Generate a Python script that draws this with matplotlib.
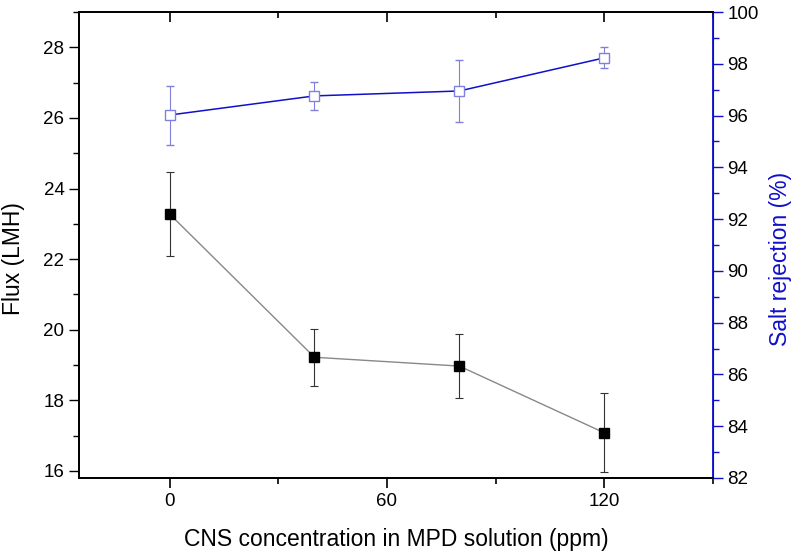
import matplotlib
matplotlib.use("Agg")
import matplotlib.pyplot as plt
from matplotlib.ticker import MultipleLocator

plt.rcParams['font.family'] = ['Liberation Sans', 'DejaVu Sans']

conc = [0, 40, 80, 120]
flux = [23.28, 19.22, 18.97, 17.08]
flux_err = [1.2, 0.81, 0.9, 1.12]
rejection = [96.02, 96.76, 96.95, 98.23]
rejection_err = [1.14, 0.55, 1.19, 0.4]

fig = plt.figure(figsize=(7.96, 5.54), dpi=100)
ax = fig.add_axes([0.0992, 0.1372, 0.7965, 0.8411])
ax2 = ax.twinx()

ax.errorbar(conc, flux, yerr=flux_err, color='#888888', lw=1.0,
            ecolor='#333333', elinewidth=0.8, capsize=3.2, capthick=0.8,
            marker='s', ms=7, mfc='black', mec='black', zorder=3)
ax2.errorbar(conc, rejection, yerr=rejection_err, color='#1010cc', lw=1.1,
             ecolor='#8080d8', elinewidth=0.8, capsize=3.2, capthick=0.8,
             marker='s', ms=6.5, mfc='white', mec='#8080e0', mew=1.0, zorder=3)

ax.set_xlim(-25, 150)
ax.set_ylim(15.8, 29.0)
ax2.set_ylim(82, 100)

ax.xaxis.set_major_locator(MultipleLocator(60))
ax.xaxis.set_minor_locator(MultipleLocator(30))
ax.yaxis.set_major_locator(MultipleLocator(2))
ax.yaxis.set_minor_locator(MultipleLocator(1))
ax2.yaxis.set_major_locator(MultipleLocator(2))
ax2.yaxis.set_minor_locator(MultipleLocator(1))

ax.tick_params(axis='x', which='both', bottom=True, top=False, direction='out',
               labelsize=13.5)
ax.tick_params(axis='x', which='major', length=7, width=1.2)
ax.tick_params(axis='x', which='minor', length=4, width=1.2)
ax.tick_params(axis='y', which='major', length=7, width=1.0, direction='out', labelsize=13.5)
ax.tick_params(axis='y', which='minor', length=4, width=1.0, direction='out')
ax2.tick_params(axis='y', which='major', length=7, width=1.0, direction='out',
                labelsize=13.5, color='#1010cc', labelcolor='black')
ax2.tick_params(axis='y', which='minor', length=4, width=1.0, direction='out', color='#1010cc')

# top ticks inward
secx = ax.secondary_xaxis('top')
secx.xaxis.set_major_locator(MultipleLocator(60))
secx.xaxis.set_minor_locator(MultipleLocator(30))
secx.tick_params(axis='x', which='major', direction='in', length=7, width=1.2, labeltop=False)
secx.tick_params(axis='x', which='minor', direction='in', length=4, width=1.2)
secx.spines['top'].set_visible(False)

for s in ['left', 'bottom', 'top']:
    ax.spines[s].set_linewidth(1.3)
    ax2.spines[s].set_linewidth(1.3)
ax2.spines['right'].set_color('#1010cc')
ax2.spines['right'].set_linewidth(1.3)

ax.set_xlabel('CNS concentration in MPD solution (ppm)', fontsize=16.5)
ax.xaxis.set_label_coords(0.5, -0.108)
ax.set_ylabel('Flux (LMH)', fontsize=16.5, va='center')
ax.yaxis.set_label_coords(-0.103, 0.471)
ax2.set_ylabel('Salt rejection (%)', fontsize=16.5, color='#1010cc', va='center')
ax2.yaxis.set_label_coords(1.106, 0.471)

fig.savefig('out.png', dpi=100)
